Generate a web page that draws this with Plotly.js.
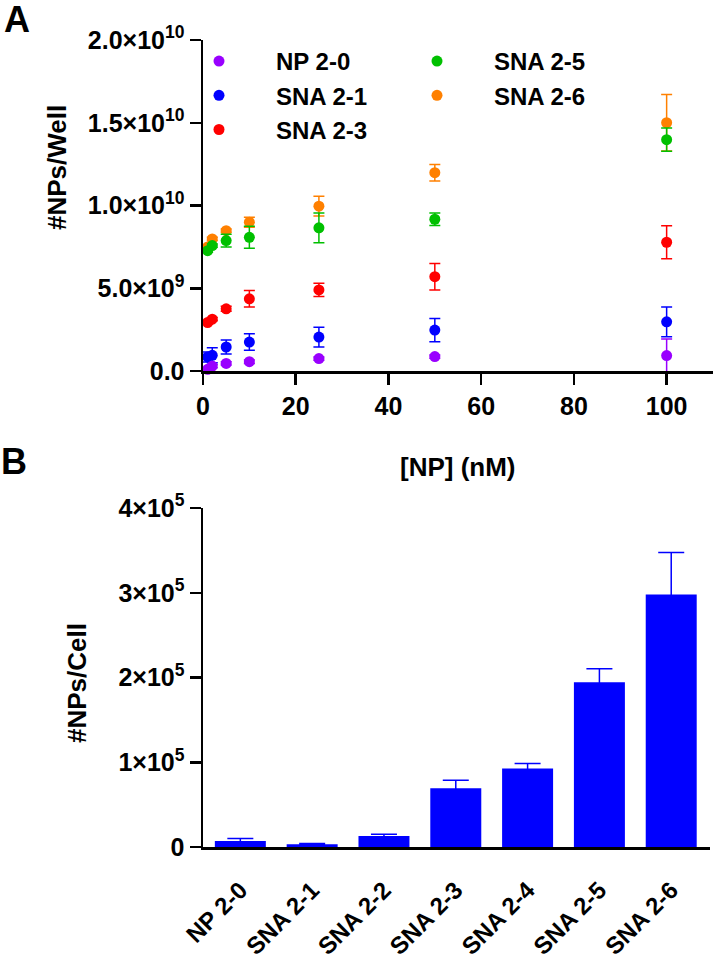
<!DOCTYPE html>
<html>
<head>
<meta charset="utf-8">
<script src="https://cdn.plot.ly/plotly-3.0.1.min.js"></script>
<style>html,body{margin:0;padding:0;background:#fff;}#chart{width:715px;height:969px;}</style>
</head>
<body>
<div id="chart"></div>
<script>
// ---------- Panel A data ----------
const concNM = [1, 2, 5, 10, 25, 50, 100];
const np20 = [1.0e8, 3.0e8, 4.6e8, 5.6e8, 7.5e8, 8.7e8, 9.3e8];
const np20Err = [1e8, 1e8, 1e8, 1e8, 1e8, 1e8, 1.0e9];
const sna21 = [8.5e8, 9.5e8, 1.45e9, 1.75e9, 2.05e9, 2.47e9, 2.97e9];
const sna21Err = [3e8, 4.5e8, 4.2e8, 5e8, 6e8, 7e8, 9e8];
const sna23 = [2.93e9, 3.13e9, 3.76e9, 4.36e9, 4.9e9, 5.7e9, 7.78e9];
const sna23Err = [1e8, 1e8, 1.5e8, 5e8, 4e8, 8e8, 1.0e9];
const sna25 = [7.27e9, 7.58e9, 7.88e9, 8.08e9, 8.65e9, 9.17e9, 1.398e10];
const sna25Err = [1e8, 1e8, 3.8e8, 6.7e8, 9e8, 3.8e8, 7e8];
const sna26 = [7.5e9, 7.98e9, 8.48e9, 8.99e9, 9.96e9, 1.198e10, 1.5e10];
const sna26Err = [1e8, 1e8, 1e8, 3e8, 6e8, 5e8, 1.7e9];
const yTickValsA = [0, 5e9, 1e10, 1.5e10, 2e10];
const yTickTextA = ['0.0', '5.0×10<sup>9</sup>', '1.0×10<sup>10</sup>', '1.5×10<sup>10</sup>', '2.0×10<sup>10</sup>'];
const xTickValsA = [0, 20, 40, 60, 80, 100];

// ---------- Panel B data ----------
const formulations = ['NP 2-0', 'SNA 2-1', 'SNA 2-2', 'SNA 2-3', 'SNA 2-4', 'SNA 2-5', 'SNA 2-6'];
const npsPerCell = [7.1e3, 3.2e3, 1.31e4, 6.94e4, 9.26e4, 1.944e5, 2.98e5];
const npsPerCellErr = [2.9e3, 0.8e3, 2.0e3, 9.5e3, 6.0e3, 1.58e4, 4.96e4];
const yTickValsB = [0, 1e5, 2e5, 3e5, 4e5];
const yTickTextB = ['0', '1×10<sup>5</sup>', '2×10<sup>5</sup>', '3×10<sup>5</sup>', '4×10<sup>5</sup>'];

const W = 715, H = 969;
const px = v => v / W;
const py = v => 1 - v / H;
const FONT = 'Liberation Sans, Arial, Helvetica, sans-serif';
const tickFont = {family: FONT, size: 25, color: '#000', weight: 'bold'};
const catFont = {family: FONT, size: 24, color: '#000', weight: 'bold'};
const legendFont = {family: FONT, size: 24, color: '#000', weight: 'bold'};
const titleFont = {family: FONT, size: 26, color: '#000', weight: 'bold'};
const panelFont = {family: FONT, size: 36, color: '#000', weight: 'bold'};

function series(name, y, err, color, rank, legend) {
  return {
    type: 'scatter', mode: 'markers', name: name, x: concNM, y: y,
    xaxis: 'x', yaxis: 'y', legend: legend, legendrank: rank, cliponaxis: false,
    marker: {size: 11, color: color},
    error_y: {type: 'data', array: err, visible: true, color: color, thickness: 1.5, width: 5.5}
  };
}

const traces = [
  series('SNA 2-6', sna26, sna26Err, '#ff8000', 5, 'legend2'),
  series('SNA 2-5', sna25, sna25Err, '#00c000', 4, 'legend2'),
  series('SNA 2-3', sna23, sna23Err, '#ff0000', 3, 'legend'),
  series('SNA 2-1', sna21, sna21Err, '#0000ff', 2, 'legend'),
  series('NP 2-0', np20, np20Err, '#9900ff', 1, 'legend'),
  {
    type: 'bar', x: formulations, y: npsPerCell, xaxis: 'x2', yaxis: 'y2',
    width: 0.71, showlegend: false,
    marker: {color: '#0000ff', line: {width: 0}},
    error_y: {type: 'data', array: npsPerCellErr, visible: true, color: '#0000ff', thickness: 1.5, width: 13}
  }
];

const axisCommon = {
  showline: true, linewidth: 2.5, linecolor: '#000', showgrid: false, zeroline: false,
  ticks: 'outside', ticklen: 11, tickwidth: 2.5, tickcolor: '#000', tickfont: tickFont, fixedrange: true
};

const legendCommon = {
  xanchor: 'left', yanchor: 'top', bgcolor: 'rgba(0,0,0,0)', borderwidth: 0, itemwidth: 104,
  font: legendFont, tracegroupgap: 0, itemclick: false, itemdoubleclick: false
};

const layout = {
  width: W, height: H,
  margin: {l: 0, r: 0, t: 0, b: 0, pad: 0},
  paper_bgcolor: '#fff', plot_bgcolor: '#fff',
  showlegend: true,
  xaxis: Object.assign({}, axisCommon, {
    domain: [px(203), px(713)], range: [0, 110], anchor: 'y',
    tickmode: 'array', tickvals: xTickValsA
  }),
  yaxis: Object.assign({}, axisCommon, {
    domain: [py(371), py(40)], range: [0, 2e10], anchor: 'x',
    tickmode: 'array', tickvals: yTickValsA, ticktext: yTickTextA
  }),
  xaxis2: Object.assign({}, axisCommon, {
    domain: [px(203), px(710)], range: [-0.52, 6.54], anchor: 'y2',
    ticks: '', tickangle: -45, ticklabelstandoff: 17, tickfont: catFont
  }),
  yaxis2: Object.assign({}, axisCommon, {
    domain: [py(847), py(508)], range: [0, 4e5], anchor: 'x2',
    tickmode: 'array', tickvals: yTickValsB, ticktext: yTickTextB
  }),
  legend: Object.assign({}, legendCommon, {x: px(162), y: py(39)}),
  legend2: Object.assign({}, legendCommon, {x: px(380), y: py(39)}),
  annotations: [
    {text: 'A', x: px(17), y: py(19), xref: 'paper', yref: 'paper', showarrow: false,
     xanchor: 'center', yanchor: 'middle', font: panelFont},
    {text: 'B', x: px(14), y: py(462), xref: 'paper', yref: 'paper', showarrow: false,
     xanchor: 'center', yanchor: 'middle', font: panelFont},
    {text: '#NPs/Well', x: px(57), y: py(168), xref: 'paper', yref: 'paper', showarrow: false, textangle: -90,
     xanchor: 'center', yanchor: 'middle', font: titleFont},
    {text: '[NP] (nM)', x: px(458), y: py(467), xref: 'paper', yref: 'paper', showarrow: false,
     xanchor: 'center', yanchor: 'middle', font: titleFont},
    {text: '#NPs/Cell', x: px(77), y: py(683), xref: 'paper', yref: 'paper', showarrow: false, textangle: -90,
     xanchor: 'center', yanchor: 'middle', font: titleFont}
  ]
};

Plotly.newPlot('chart', traces, layout, {staticPlot: true, displayModeBar: false});
</script>
</body>
</html>
